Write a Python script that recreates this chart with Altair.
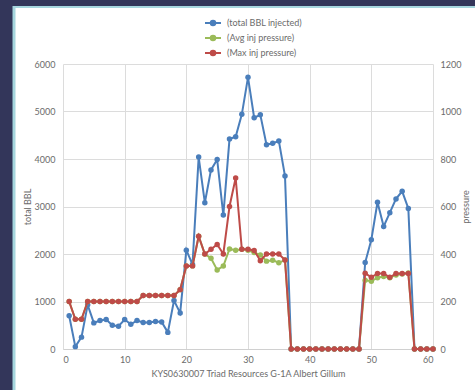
import altair as alt
import pandas as pd

days = list(range(1, 61))
total_bbl = [700, 50, 250, 930, 550, 600, 620, 500, 480, 620,
             520, 600, 560, 560, 580, 570, 350, 1020, 760, 2080,
             1780, 4040, 3080, 3770, 3990, 2820, 4420, 4470, 4940, 5720,
             4870, 4930, 4300, 4330, 4380, 3640, 0, 0, 0, 0,
             0, 0, 0, 0, 0, 0, 0, 0, 1820, 2300,
             3090, 2580, 2870, 3160, 3320, 2960, 0, 0, 0, 0]
max_press = [200, 125, 125, 200, 200, 200, 200, 200, 200, 200,
             200, 200, 225, 225, 225, 225, 225, 225, 250, 350,
             350, 475, 400, 420, 440, 400, 600, 720, 420, 420,
             415, 372, 400, 400, 400, 375, 0, 0, 0, 0,
             0, 0, 0, 0, 0, 0, 0, 0, 319, 302,
             318, 318, 302, 318, 318, 318, 0, 0, 0, 0]
avg_press = [200, 125, 125, 200, 200, 200, 200, 200, 200, 200,
             200, 200, 225, 225, 225, 225, 225, 225, 250, 350,
             350, 475, 400, 382, 333, 349, 421, 416, 420, 416,
             406, 396, 370, 374, 363, 375, 0, 0, 0, 0,
             0, 0, 0, 0, 0, 0, 0, 0, 290, 285,
             300, 305, 300, 312, 316, 320, 0, 0, 0, 0]

series = ["(total BBL injected)", " (Avg inj pressure)", "(Max inj pressure)"]
colors = ["#4A7EBB", "#9BBB59", "#BE4B48"]

rows = []
for name, vals in zip(series, [total_bbl, avg_press, max_press]):
    for d, v in zip(days, vals):
        rows.append({"day": d, "series": name, "value": v})
df = pd.DataFrame(rows)

FONT = "Lato"
GRAY = "#6b6b6b"

legend_path = ("M-1.6,0L1.6,0M0.45,0A0.45,0.45,0,1,1,-0.45,0"
               "A0.45,0.45,0,1,1,0.45,0Z")

color_enc = alt.Color(
    "series:N", scale=alt.Scale(domain=series, range=colors),
    legend=alt.Legend(
        title=None, orient="none", legendX=144, legendY=-47, direction="vertical",
        symbolType=legend_path, symbolSize=100, symbolStrokeWidth=2,
        labelOffset=8, rowPadding=1, labelFont=FONT, labelFontSize=9,
        labelColor=GRAY,
    ),
)

x_enc = alt.X("day:Q", scale=alt.Scale(domain=[0, 60], nice=False),
              axis=alt.Axis(values=list(range(0, 61, 10)), grid=True,
                            gridColor="#dcdcdc", domainColor="#d0d0d0",
                            ticks=False, labelPadding=6, format="d",
                            title="KYS0630007 Triad Resources G-1A Albert Gillum",
                            titlePadding=5))

pt = alt.OverlayMarkDef(filled=True, size=30, opacity=1)

def series_line(i):
    return alt.Chart(df).transform_filter(
        alt.FieldEqualPredicate(field="series", equal=series[i])
    ).mark_line(point=pt, strokeWidth=2)

blue = series_line(0).encode(
    x=x_enc,
    y=alt.Y("value:Q", scale=alt.Scale(domain=[0, 6000], nice=False),
            axis=alt.Axis(orient="left", values=list(range(0, 6001, 1000)),
                          grid=True, gridColor="#dcdcdc", domain=False,
                          ticks=False, labelPadding=8, format="d",
                          title="total BBL", titlePadding=2, titleAngle=-90)),
    color=color_enc,
)

press_y = alt.Y("value:Q", scale=alt.Scale(domain=[0, 1200], nice=False),
                axis=alt.Axis(orient="right", values=list(range(0, 1201, 200)),
                              grid=False, domain=False, ticks=False, format="d",
                              labelPadding=7, title="pressure",
                              titlePadding=10, titleAngle=-90))

green = series_line(1).encode(x=x_enc, y=press_y, color=color_enc)
red = series_line(2).encode(x=x_enc, y=press_y, color=color_enc)

one = alt.Data(values=[{"k": 1}])
DARK = "#33365a"
dark_left = alt.Chart(one).mark_rect(color=DARK).encode(
    x=alt.value(-70), x2=alt.value(-49), y=alt.value(-70), y2=alt.value(330))
dark_top = alt.Chart(one).mark_rect(color=DARK).encode(
    x=alt.value(-70), x2=alt.value(420), y=alt.value(-70), y2=alt.value(-58))
edge_left = alt.Chart(one).mark_rule(color="#a6d6de", strokeWidth=3).encode(
    x=alt.value(-49), y=alt.value(-58), y2=alt.value(330))
edge_top = alt.Chart(one).mark_rule(color="#a6d6de", strokeWidth=2).encode(
    x=alt.value(-49), x2=alt.value(420), y=alt.value(-57))

chart = alt.layer(
    dark_left, dark_top, edge_left, edge_top,
    blue, alt.layer(green, red),
).resolve_scale(y="independent").properties(
    width=370, height=285,
    autosize=alt.AutoSizeParams(type="none"),
    padding={"left": 63, "top": 64, "right": 42, "bottom": 41},
    background="white",
).configure_view(stroke=None).configure_axis(
    labelFont=FONT, labelFontSize=9, labelColor=GRAY,
    titleFont=FONT, titleFontSize=9, titleColor=GRAY, titleFontWeight="normal",
)

chart.save("out.html", embed_options={"renderer": "svg", "actions": False})
